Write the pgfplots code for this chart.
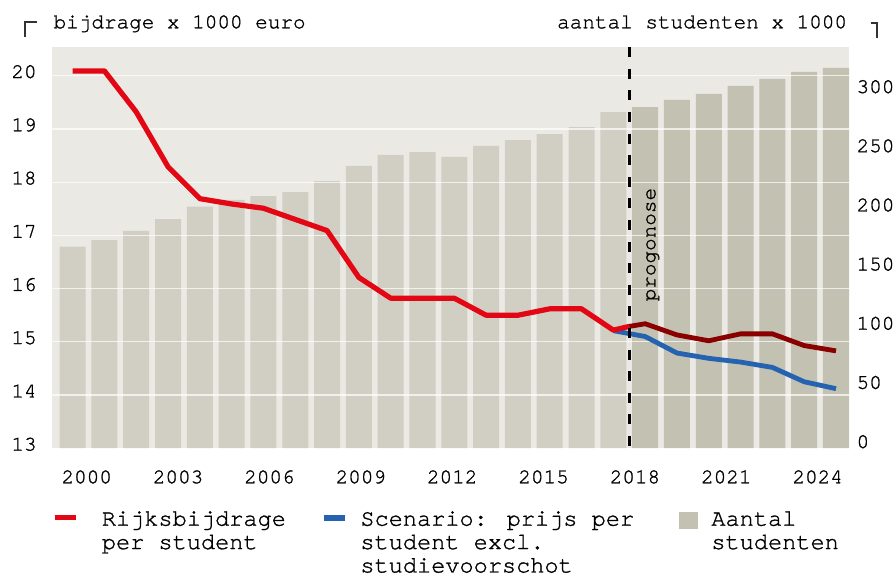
\documentclass[border=0pt]{standalone}
\usepackage{pgfplots}
\pgfplotsset{compat=1.18}
\usepackage{fontspec}
\setmainfont{TeX Gyre Cursor}[FakeBold=1.2]
\definecolor{bgc}{HTML}{EAE9E4}
\definecolor{barl}{HTML}{D1CFC3}
\definecolor{bard}{HTML}{C3C1B1}
\definecolor{redl}{HTML}{E30613}
\definecolor{darkr}{HTML}{8A0000}
\definecolor{bluel}{HTML}{2563B0}
\definecolor{brk}{HTML}{333333}
\newcommand{\tfont}{\fontsize{10.5pt}{12pt}\selectfont}
\newcommand{\lfont}{\fontsize{11.8pt}{11.7pt}\selectfont}
\newcommand{\lentry}[2]{\smash{\parbox[t]{#1}{\raggedright #2}}}
\begin{document}
\begin{tikzpicture}
\useasboundingbox (-26pt,-64.35pt) rectangle (421pt,224.15pt);
% ---------- bars (right axis) ----------
\begin{axis}[
  at={(0pt,0pt)}, anchor=south west,
  width=398.5pt, height=200.5pt, scale only axis,
  xmin=1999.352, xmax=2024.409,
  ymin=0, ymax=338.9,
  axis y line*=right,
  axis line style={draw=none},
  axis background/.style={fill=bgc},
  major tick length=0pt,
  xtick=\empty,
  ytick={0,50,100,150,200,250,300},
  /pgf/number format/assume math mode=true,
  tick label style={font=\tfont, inner sep=0pt},
  yticklabel style={anchor=west, xshift=3.6pt, yshift=3.3pt},
]
\addplot[ybar, bar width=0.818, bar shift=0pt, fill=barl, draw=none] coordinates {
(2000,170.4) (2001,176.0) (2002,183.7) (2003,193.7) (2004,204.2) (2005,209.9)
(2006,213.2) (2007,216.6) (2008,225.9) (2009,238.6) (2010,247.9) (2011,250.4)
(2012,246.2) (2013,255.5) (2014,260.5) (2015,265.6) (2016,271.5) (2017,284.2)
};
\addplot[ybar, bar width=0.818, bar shift=0pt, fill=bard, draw=none] coordinates {
(2018,288.4) (2019,294.4) (2020,299.5) (2021,306.3) (2022,312.2) (2023,318.1) (2024,321.5)
};
\end{axis}
% ---------- lines (left axis) ----------
\begin{axis}[
  at={(0pt,0pt)}, anchor=south west,
  width=398.5pt, height=200.5pt, scale only axis,
  xmin=1999.352, xmax=2024.409,
  ymin=13, ymax=20.534,
  axis line style={draw=none},
  major tick length=0pt,
  xtick={2000.443,2003.316,2006.188,2009.061,2011.933,2014.806,2017.679,2020.551,2023.424},
  xticklabels={2000,2003,2006,2009,2012,2015,2018,2021,2024},
  ytick={13,14,15,16,17,18,19,20},
  ymajorgrids,
  grid style={white, line width=0.65pt, opacity=0.7},
  /pgf/number format/assume math mode=true,
  tick label style={font=\tfont, inner sep=0pt},
  xticklabel style={anchor=base, yshift=-17.5pt},
  yticklabel style={anchor=east, xshift=-7.5pt, yshift=2pt},
  legend columns=3,
  legend style={at={(axis description cs:0,0)}, anchor=north west,
    xshift=-0.15pt, yshift=-31.65pt,
    draw=none, fill=none, inner sep=0pt, outer sep=0pt,
    column sep=0pt, row sep=0pt, font=\lfont,
    cells={anchor=west}, nodes={inner sep=0pt, outer sep=0pt}},
]
\addplot[bluel, line width=2.4pt, line join=round, forget plot] coordinates {
(2017,15.21) (2018,15.10) (2019,14.79) (2020,14.69) (2021,14.62) (2022,14.52) (2023,14.25) (2024,14.12)
};
\addplot[redl, line width=2.6pt, line join=round, forget plot] coordinates {
(2000,20.09) (2001,20.09) (2002,19.32) (2003,18.29) (2004,17.69) (2005,17.59)
(2006,17.51) (2007,17.30) (2008,17.09) (2009,16.21) (2010,15.82) (2011,15.82)
(2012,15.82) (2013,15.50) (2014,15.50) (2015,15.62) (2016,15.62) (2017,15.22) (2017.5,15.29)
};
\addplot[darkr, line width=2.4pt, line join=round, forget plot] coordinates {
(2017.5,15.29) (2018,15.34) (2019,15.13) (2020,15.02) (2021,15.15) (2022,15.15) (2023,14.93) (2024,14.83)
};
\addplot[black, line width=1.4pt, dash pattern=on 5pt off 5.8pt, forget plot] coordinates {
(2017.5,20.534) (2017.5,13)
};
\node[rotate=90, anchor=base west, inner sep=0pt, font=\tfont] at (axis cs:2018.32,15.754) {progonose};
% legend
\addlegendimage{legend image code/.code={
  \path[draw=none, fill=none] (0pt,-1pt) rectangle (23.65pt,7.8pt);
  \draw[redl, fill=none, line width=2.85pt] (0pt,4.8pt) -- (10.8pt,4.8pt);}}
\addlegendentry{\lentry{109.5pt}{Rijksbijdrage\\per student}}
\addlegendimage{legend image code/.code={
  \path[draw=none, fill=none] (0pt,-1pt) rectangle (18.35pt,7.8pt);
  \draw[bluel, fill=none, line width=2.85pt] (0pt,4.5pt) -- (10.85pt,4.5pt);}}
\addlegendentry{\lentry{159.5pt}{Scenario: prijs per\\student excl.\\studievoorschot}}
\addlegendimage{legend image code/.code={
  \path[draw=none, fill=none] (0pt,-1pt) rectangle (16pt,7.8pt);
  \fill[bard, draw=none] (0pt,-1pt) rectangle (9.35pt,7.8pt);}}
\addlegendentry{\lentry{80pt}{Aantal\\studenten}}
\end{axis}
% titles
\node[anchor=base west, inner sep=0pt, font=\tfont] at (0.6pt,210pt) {bijdrage x 1000 euro};
\node[anchor=base east, inner sep=0pt, font=\tfont] at (397.7pt,210pt) {aantal studenten x 1000};
% corner marks
\draw[brk, line width=0.85pt] (-7.35pt,213.15pt) -- (-13.5pt,213.15pt) -- (-13.5pt,205.5pt);
\draw[brk, line width=0.85pt] (409.35pt,212.8pt) -- (412.65pt,212.8pt) -- (412.65pt,205pt);
\end{tikzpicture}
\end{document}
